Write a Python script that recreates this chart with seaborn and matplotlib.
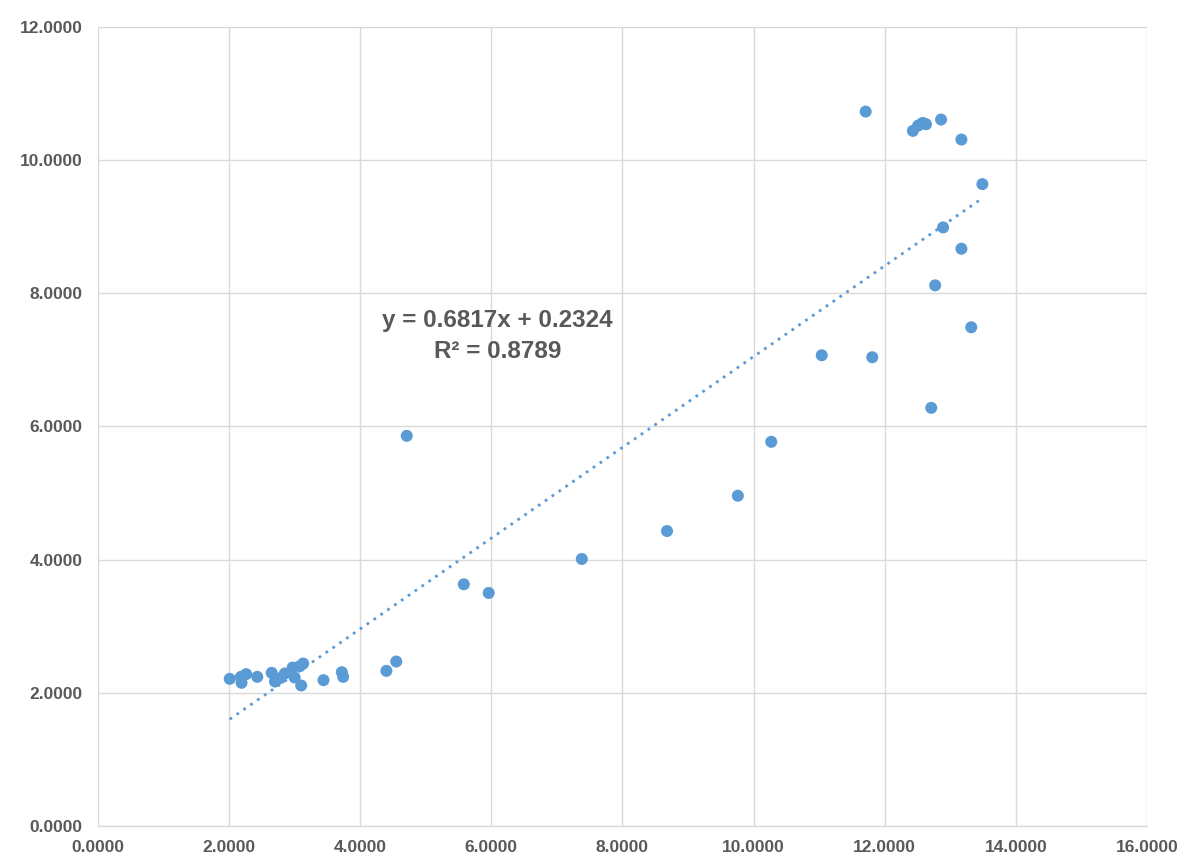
import numpy as np
import pandas as pd
import seaborn as sns
import matplotlib.pyplot as plt

# --- datos ---
x_vals = [2.01, 2.18, 2.19, 2.26, 2.43, 2.65, 2.70, 2.78, 2.85, 2.97, 3.00, 3.08,
          3.13, 3.10, 3.44, 3.72, 3.74, 4.40, 4.55, 4.71, 5.58, 5.96, 7.38, 8.68,
          9.76, 10.27, 11.04, 11.81, 12.71, 12.77, 13.17, 13.32, 12.89, 13.49,
          11.71, 12.43, 12.51, 12.58, 12.63, 12.86, 13.17]
y_vals = [2.21, 2.24, 2.15, 2.28, 2.24, 2.30, 2.17, 2.22, 2.29, 2.38, 2.23, 2.40,
          2.44, 2.11, 2.19, 2.31, 2.24, 2.33, 2.47, 5.86, 3.63, 3.50, 4.01, 4.43,
          4.96, 5.77, 7.07, 7.04, 6.28, 8.12, 8.67, 7.49, 8.99, 9.64,
          10.73, 10.44, 10.52, 10.56, 10.54, 10.61, 10.31]

# línea de tendencia (Excel)
pendiente = 0.6817
intercepto = 0.2324
r2 = 0.8789

x_ticks = [0, 2, 4, 6, 8, 10, 12, 14, 16]
y_ticks = [0, 2, 4, 6, 8, 10, 12]

df = pd.DataFrame({"x": x_vals, "y": y_vals})

sns.set_style("white")
plt.rcParams["font.family"] = ["Liberation Sans", "DejaVu Sans"]

fig = plt.figure(figsize=(11.93, 8.63), dpi=100)
ax = fig.add_axes([0.0821, 0.0429, 0.8793, 0.9258])

azul = "#5b9bd5"
gris_txt = "#595959"

sns.scatterplot(data=df, x="x", y="y", ax=ax, color=azul, s=75,
                edgecolor="none", zorder=3)

# tendencia punteada
xt = np.array([min(x_vals), max(x_vals)])
ax.plot(xt, pendiente * xt + intercepto, linestyle=(0, (1, 2.0)),
        color=azul, linewidth=2, zorder=2)

ax.text(6.09, 7.36, f"y = {pendiente:.4f}x + {intercepto:.4f}\nR² = {r2:.4f}",
        ha="center", va="center", fontsize=17.5, fontweight="bold",
        color=gris_txt, linespacing=1.45, zorder=4)

ax.set_xlim(0, 16)
ax.set_ylim(0, 12)
ax.set_xticks(x_ticks)
ax.set_yticks(y_ticks)
ax.set_xticklabels([f"{v:.4f}" for v in x_ticks])
ax.set_yticklabels([f"{v:.4f}" for v in y_ticks])
ax.tick_params(axis="both", length=0, labelsize=12.5, labelcolor=gris_txt)
for lab in ax.get_xticklabels() + ax.get_yticklabels():
    lab.set_fontweight("bold")
ax.tick_params(axis="x", pad=10)
ax.tick_params(axis="y", pad=11)

ax.grid(True, color="#d9d9d9", linewidth=1)
ax.set_axisbelow(True)
for lado in ["top", "right", "left"]:
    ax.spines[lado].set_visible(False)
ax.spines["bottom"].set_color("#d9d9d9")
ax.spines["bottom"].set_linewidth(1)
ax.set_xlabel("")
ax.set_ylabel("")

fig.savefig("out.png", dpi=100)
plt.close(fig)
